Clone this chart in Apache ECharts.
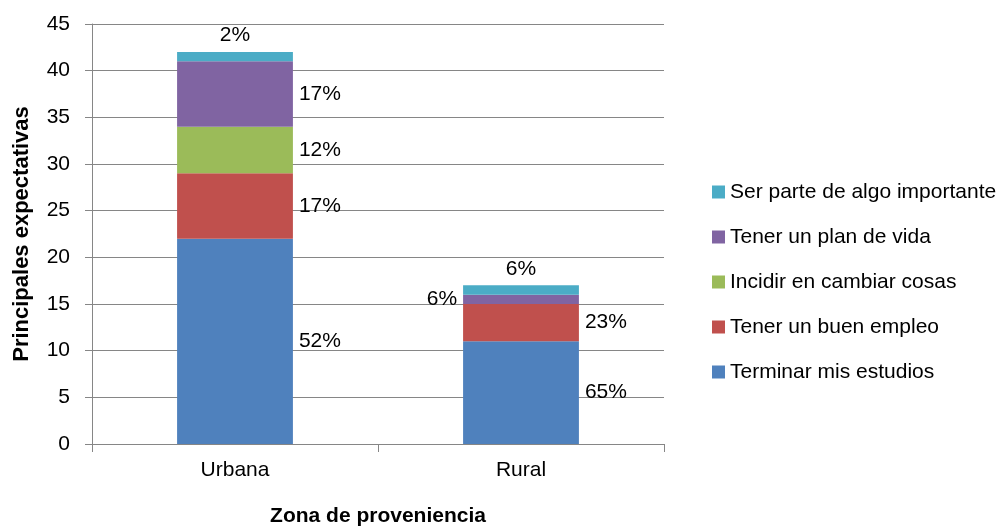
<!DOCTYPE html>
<html>
<head>
<meta charset="utf-8">
<script src="https://cdn.jsdelivr.net/npm/echarts@6/dist/echarts.min.js"></script>
<style>
  html, body { margin: 0; padding: 0; background: #fff; }
  #chart { width: 1004px; height: 527px; }
</style>
</head>
<body>
<div id="chart"></div>
<script>
// datos
const zonas = ["Urbana", "Rural"];
const terminarEstudios = [22, 11];
const buenEmpleo = [7, 4];
const cambiarCosas = [5, 0];
const planVida = [7, 1];
const algoImportante = [1, 1];

// etiquetas de porcentaje tal como aparecen
const pctEstudios = ["52%", "65%"];
const pctEmpleo = ["17%", "23%"];
const pctCosas = ["12%", ""];
const pctPlan = ["17%", "6%"];
const pctImportante = ["2%", "6%"];

const yTicks = [0, 5, 10, 15, 20, 25, 30, 35, 40, 45];

const font = "'Liberation Sans', Arial, sans-serif";

const chart = echarts.init(document.getElementById("chart"));

function etiqueta(pcts, pos) {
  return {
    show: true,
    position: pos,
    distance: 6,
    color: "#000",
    fontFamily: font,
    fontSize: 21,
    formatter: (p) => pcts[p.dataIndex]
  };
}

function serie(name, data, color, pcts, pos) {
  return {
    name: name,
    type: "bar",
    stack: "total",
    barWidth: "40.5%",
    data: data,
    itemStyle: { color: color },
    label: etiqueta(pcts, pos),
    labelLayout: { hideOverlap: false }
  };
}

const planSerie = serie("Tener un plan de vida", planVida, "#8064A2", pctPlan, "right");
// en Rural la etiqueta va a la izquierda
planSerie.data = planVida.map((v, i) =>
  i === 1 ? { value: v, label: { position: "left" } } : v
);

const option = {
  animation: false,
  backgroundColor: "#fff",
  textStyle: { fontFamily: font },
  grid: { left: 92, right: 340, top: 24, bottom: 83, outerBoundsMode: "none" },
  legend: {
    orient: "vertical",
    left: 707,
    top: 175,
    itemWidth: 13,
    itemHeight: 13,
    itemGap: 21,
    icon: "rect",
    textStyle: { fontSize: 21, color: "#000", fontFamily: font, lineHeight: 24 },
    data: [
      "Ser parte de algo importante",
      "Tener un plan de vida",
      "Incidir en cambiar cosas",
      "Tener un buen empleo",
      "Terminar mis estudios"
    ]
  },
  xAxis: {
    type: "category",
    data: zonas,
    name: "Zona de proveniencia",
    nameLocation: "middle",
    nameGap: 62,
    nameTextStyle: { fontSize: 21, fontWeight: "bold", color: "#000", fontFamily: font },
    axisLine: { lineStyle: { color: "#868686", width: 1 } },
    axisTick: { show: true, length: 8, lineStyle: { color: "#868686" } },
    axisLabel: { fontSize: 21, color: "#000", margin: 16, fontFamily: font }
  },
  yAxis: {
    type: "value",
    min: 0,
    max: 45,
    interval: 5,
    name: "Principales expectativas",
    nameLocation: "middle",
    nameGap: 59,
    nameTextStyle: { fontSize: 22, fontWeight: "bold", color: "#000", fontFamily: font },
    axisLine: { show: true, lineStyle: { color: "#868686", width: 1 } },
    axisTick: { show: true, length: 7, lineStyle: { color: "#868686" } },
    splitLine: { lineStyle: { color: "#868686", width: 1 } },
    axisLabel: {
      fontSize: 21,
      color: "#000",
      margin: 22,
      fontFamily: font,
      formatter: (v) => (yTicks.indexOf(v) >= 0 ? String(v) : "")
    }
  },
  series: [
    serie("Terminar mis estudios", terminarEstudios, "#4F81BD", pctEstudios, "right"),
    serie("Tener un buen empleo", buenEmpleo, "#C0504D", pctEmpleo, "right"),
    serie("Incidir en cambiar cosas", cambiarCosas, "#9BBB59", pctCosas, "right"),
    planSerie,
    serie("Ser parte de algo importante", algoImportante, "#4BACC6", pctImportante, "top")
  ]
};

chart.setOption(option);
window.addEventListener("resize", function () {
  chart.resize();
});
</script>
</body>
</html>
